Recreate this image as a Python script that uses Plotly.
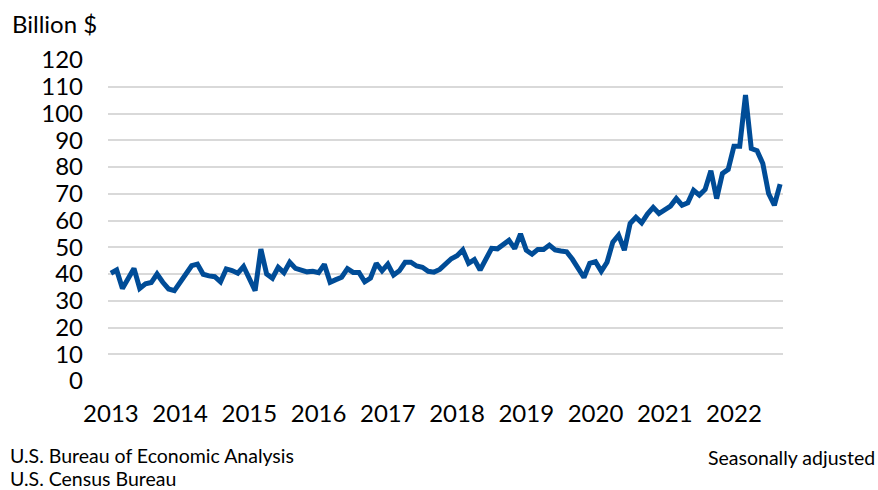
import plotly.graph_objects as go

years = ["2013", "2014", "2015", "2016", "2017", "2018", "2019", "2020", "2021", "2022"]

deficit_2013 = [40.3, 41.5, 34.6, 38.4, 42.1, 34.6, 36.3, 36.8, 40.0, 36.9, 34.4, 33.8]
deficit_2014 = [37.1, 40.3, 43.1, 43.7, 39.9, 39.3, 39.0, 37.1, 41.9, 41.3, 40.3, 42.8]
deficit_2015 = [37.8, 33.8, 49.3, 40.0, 38.4, 42.5, 40.5, 44.4, 42.1, 41.3, 40.8, 41.0]
deficit_2016 = [40.5, 43.6, 36.9, 37.9, 38.8, 42.0, 40.6, 40.6, 37.1, 38.5, 44.0, 41.2]
deficit_2017 = [43.7, 39.6, 41.2, 44.4, 44.4, 43.0, 42.5, 41.0, 40.7, 41.7, 43.7, 45.7]
deficit_2018 = [46.8, 49.0, 44.0, 45.4, 41.5, 45.1, 49.6, 49.4, 51.2, 52.6, 49.5, 55.0]
deficit_2019 = [48.9, 47.4, 49.2, 49.2, 50.8, 49.0, 48.6, 48.3, 45.5, 42.0, 38.7, 44.0]
deficit_2020 = [44.6, 41.0, 44.4, 51.9, 54.5, 48.9, 58.9, 61.2, 59.1, 62.4, 64.9, 62.6]
deficit_2021 = [63.9, 65.4, 68.2, 65.7, 66.6, 71.3, 69.5, 71.6, 78.6, 68.2, 77.6, 79.1]
deficit_2022 = [87.8, 87.8, 106.9, 86.9, 86.1, 81.3, 70.1, 65.7, 73.6]

values = (deficit_2013 + deficit_2014 + deficit_2015 + deficit_2016 + deficit_2017
          + deficit_2018 + deficit_2019 + deficit_2020 + deficit_2021 + deficit_2022)
months = list(range(len(values)))
year_ticks = [12 * k for k in range(len(years))]

FONT = "Lato, 'Open Sans', sans-serif"
W, H = 878, 490
L, R, T, B = 108, 95, 60, 109
pw, ph = W - L - R, H - T - B

def px(x):
    return (x - L) / pw

def py(y):
    return (H - B - y) / ph

fig = go.Figure()
fig.add_trace(go.Scatter(
    x=months, y=values, mode="lines",
    line=dict(color="#004C97", width=5),
    hoverinfo="y", showlegend=False,
))

fig.update_layout(
    width=W, height=H,
    margin=dict(l=L, r=R, t=T, b=B),
    paper_bgcolor="white", plot_bgcolor="white",
    font=dict(family=FONT, color="#000000", size=24),
    xaxis=dict(
        range=[-0.5, len(values) - 0.5],
        tickmode="array", tickvals=year_ticks, ticktext=years,
        showgrid=False, zeroline=False, showline=False, ticks="",
        tickfont=dict(size=24), ticklabelstandoff=16,
    ),
    yaxis=dict(
        range=[0, 120], dtick=10, tick0=0,
        showgrid=True, gridcolor="#D9D9D9", gridwidth=1.5,
        zeroline=False, showline=False, ticks="",
        tickfont=dict(size=24), ticklabelstandoff=24,
    ),
    annotations=[
        dict(text="Billion $", xref="paper", yref="paper", x=px(10), y=py(24),
             xanchor="left", yanchor="middle", showarrow=False, font=dict(size=24)),
        dict(text="U.S. Bureau of Economic Analysis", xref="paper", yref="paper",
             x=px(8), y=py(455), xanchor="left", yanchor="middle", showarrow=False,
             font=dict(size=19.5)),
        dict(text="U.S. Census Bureau", xref="paper", yref="paper",
             x=px(8), y=py(478), xanchor="left", yanchor="middle", showarrow=False,
             font=dict(size=19.5)),
        dict(text="Seasonally adjusted", xref="paper", yref="paper",
             x=px(877), y=py(457), xanchor="right", yanchor="middle", showarrow=False,
             font=dict(size=19.5)),
    ],
)

fig.write_html("out.html", config={"displayModeBar": False})

with open("out.html", "r", encoding="utf-8") as f:
    html = f.read()
html = html.replace("<head>", "<head><style>html,body{margin:0;padding:0;overflow:hidden;}</style>", 1)
with open("out.html", "w", encoding="utf-8") as f:
    f.write(html)
